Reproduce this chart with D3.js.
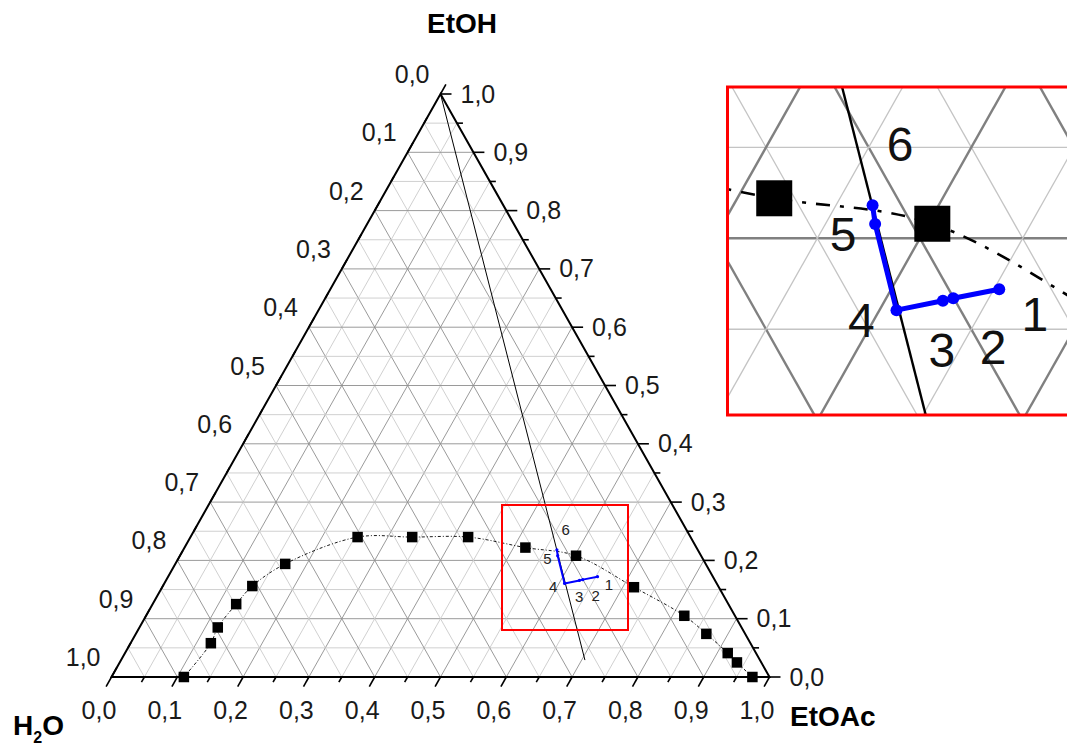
<!DOCTYPE html>
<html>
<head>
<meta charset="utf-8">
<script src="https://cdn.jsdelivr.net/npm/d3@7"></script>
<style>
    body { margin: 0; background: #fff; }
    svg { display: block; font-family: Arial, 'Liberation Sans', sans-serif; }
</style>
</head>
<body>
<svg id="chart" width="1067" height="747"></svg>
<script>
// binodal curve, mass fractions (H2O = 1 - EtOAc - EtOH)
const binodalEtOAc = [0.110, 0.122, 0.119, 0.127, 0.136, 0.167, 0.254, 0.337, 0.422, 0.518, 0.602, 0.717, 0.818, 0.867, 0.916, 0.938, 0.974]
const binodalEtOH = [0.000, 0.058, 0.085, 0.125, 0.156, 0.194, 0.240, 0.240, 0.240, 0.222, 0.208, 0.154, 0.105, 0.074, 0.041, 0.025, 0.000]

// straight line from the EtOH corner
const tieEtOAc = [0.000, 0.705]
const tieEtOH = [1.000, 0.029]

// blue path, stages 1..6
const stageNames = ['1', '2', '3', '4', '5', '6']
const stageEtOAc = [0.6526, 0.6327, 0.6283, 0.6083, 0.5742, 0.5678]
const stageEtOH = [0.1720, 0.1670, 0.1657, 0.1605, 0.2079, 0.2182]

const tickValues = d3.range(0, 1.0001, 0.05)
const axisTitles = ['EtOH', 'EtOAc', 'H2O']

const svg = d3.select('#chart')
const fmt = d3.formatLocale({ decimal: ',', thousands: '.', grouping: [3], currency: ['', ''] }).format('.1f')

// corners: H2O bottom-left, EtOAc bottom-right, EtOH top
const corner = { A: [111.5, 677], B: [769.5, 677], C: [440.5, 94] }

// cartesian u = EtOAc + EtOH / 2, v = EtOH
const xMain = d3.scaleLinear().domain([0, 1]).range([corner.A[0], corner.B[0]])
const yMain = d3.scaleLinear().domain([0, 1]).range([corner.A[1], corner.C[1]])

const zoomK = 3.12
const zoomCenter = { b: 0.6, c: 0.2, x: 920, y: 238.3 }
const cx0 = xMain(zoomCenter.b + zoomCenter.c / 2)
const cy0 = yMain(zoomCenter.c)
const xInset = d3.scaleLinear().domain([0, 1])
    .range(xMain.range().map(v => zoomCenter.x + (v - cx0) * zoomK))
const yInset = d3.scaleLinear().domain([0, 1])
    .range(yMain.range().map(v => zoomCenter.y + (v - cy0) * zoomK))

function makeProj (xs, ys) {
    return (b, c) => [xs(b + c / 2), ys(c)]
}

function drawContent (g, proj, st) {
    // grid
    const grid = g.append('g')
    tickValues.filter(v => v > 0.001 && v < 0.999).forEach(v => {
        const major = Math.abs(v * 10 - Math.round(v * 10)) < 1e-6
        const segs = [
            [proj(0, v), proj(1 - v, v)],
            [proj(v, 0), proj(v, 1 - v)],
            [proj(1 - v, 0), proj(0, 1 - v)]
        ]
        segs.forEach(s => {
            grid.append('line')
                .attr('x1', s[0][0]).attr('y1', s[0][1])
                .attr('x2', s[1][0]).attr('y2', s[1][1])
                .attr('stroke', major ? st.majorColor : st.minorColor)
                .attr('stroke-width', major ? st.majorWidth : st.minorWidth)
        })
    })

    // tie line
    g.append('path')
        .datum(d3.zip(tieEtOAc, tieEtOH))
        .attr('d', d3.line().x(d => proj(d[0], d[1])[0]).y(d => proj(d[0], d[1])[1]))
        .attr('fill', 'none')
        .attr('stroke', '#000')
        .attr('stroke-width', st.tieWidth)

    // binodal
    const pts = d3.zip(binodalEtOAc, binodalEtOH)
    g.append('path')
        .datum(pts)
        .attr('d', d3.line()
            .x(d => proj(d[0], d[1])[0])
            .y(d => proj(d[0], d[1])[1])
            .curve(d3.curveCatmullRom.alpha(0.5)))
        .attr('fill', 'none')
        .attr('stroke', '#000')
        .attr('stroke-width', st.curveWidth)
        .attr('stroke-dasharray', st.dash)

    g.append('g').selectAll('rect')
        .data(pts)
        .join('rect')
        .attr('x', d => proj(d[0], d[1])[0] - st.sq / 2)
        .attr('y', d => proj(d[0], d[1])[1] - st.sq / 2)
        .attr('width', st.sq)
        .attr('height', st.sq)
        .attr('fill', '#000')

    // stages
    const stages = d3.zip(stageEtOAc, stageEtOH, stageNames)
    g.append('path')
        .datum(stages)
        .attr('d', d3.line().x(d => proj(d[0], d[1])[0]).y(d => proj(d[0], d[1])[1]))
        .attr('fill', 'none')
        .attr('stroke', '#0000ff')
        .attr('stroke-width', st.blueWidth)
        .attr('stroke-linejoin', 'round')
    g.append('g').selectAll('circle')
        .data(stages)
        .join('circle')
        .attr('cx', d => proj(d[0], d[1])[0])
        .attr('cy', d => proj(d[0], d[1])[1])
        .attr('r', st.dot)
        .attr('fill', '#0000ff')

    // label offsets in main-chart pixels
    const off = { 1: [11.4, 7.8], 2: [12.8, 15.6], 3: [-0.3, 15.8], 4: [-11.3, 3.2], 5: [-10.3, 3], 6: [8.8, -19.8] }
    g.append('g').selectAll('text')
        .data(stages)
        .join('text')
        .attr('x', d => proj(d[0], d[1])[0] + off[d[2]][0] * st.scale)
        .attr('y', d => proj(d[0], d[1])[1] + off[d[2]][1] * st.scale)
        .attr('dy', '0.36em')
        .attr('text-anchor', 'middle')
        .attr('font-size', st.labelSize)
        .attr('fill', st.labelColor)
        .text(d => d[2])
}

const projMain = makeProj(xMain, yMain)
const main = svg.append('g')

drawContent(main, projMain, {
    majorColor: '#8e8e8e', minorColor: '#cbcbcb', majorWidth: 0.9, minorWidth: 0.9,
    tieWidth: 1, curveWidth: 0.9, dash: '3,2,1,2', sq: 10.5,
    blueWidth: 2, dot: 1.6, scale: 1, labelSize: 15, labelColor: '#222'
})

// triangle frame
main.append('path')
    .attr('d', d3.line()([projMain(0, 0), projMain(1, 0), projMain(0, 1)]) + 'Z')
    .attr('fill', 'none')
    .attr('stroke', '#000')
    .attr('stroke-width', 2)
    .attr('stroke-linejoin', 'miter')

// ticks and tick labels
const dirDown = [corner.A[0] - corner.C[0], corner.A[1] - corner.C[1]]
const len = Math.hypot(dirDown[0], dirDown[1])
const uDown = [dirDown[0] / len, dirDown[1] / len]
const uUp = [-uDown[0], -uDown[1]]
const axes = [
    { pos: v => projMain(v, 0), dir: uDown, anchor: 'middle', lx: -12.5, ly: 42 },
    { pos: v => projMain(1 - v, v), dir: [1, 0], anchor: 'start', lx: 20, ly: 8.5 },
    { pos: v => projMain(0, 1 - v), dir: uUp, anchor: 'end', lx: -11, ly: -11 }
]
const tickG = main.append('g')
axes.forEach(ax => {
    tickValues.forEach(v => {
        const major = Math.abs(v * 10 - Math.round(v * 10)) < 1e-6
        const p = ax.pos(v)
        const L = major ? 11 : 6
        tickG.append('line')
            .attr('x1', p[0]).attr('y1', p[1])
            .attr('x2', p[0] + ax.dir[0] * L).attr('y2', p[1] + ax.dir[1] * L)
            .attr('stroke', '#000')
            .attr('stroke-width', 1.6)
        if (major) {
            tickG.append('text')
                .attr('x', p[0] + ax.lx)
                .attr('y', p[1] + ax.ly)
                .attr('text-anchor', ax.anchor)
                .attr('font-size', 25)
                .attr('fill', '#1a1a1a')
                .text(fmt(v))
        }
    })
})

// axis titles
main.append('text')
    .attr('x', 462).attr('y', 32.5)
    .attr('text-anchor', 'middle')
    .attr('font-size', 28).attr('font-weight', 'bold')
    .text(axisTitles[0])
main.append('text')
    .attr('x', 790).attr('y', 726)
    .attr('font-size', 28).attr('font-weight', 'bold')
    .text(axisTitles[1])
const h2o = main.append('text')
    .attr('x', 13).attr('y', 735)
    .attr('font-size', 28).attr('font-weight', 'bold')
h2o.append('tspan').text(axisTitles[2][0])
h2o.append('tspan').attr('font-size', 16).attr('dy', 8).text(axisTitles[2][1])
h2o.append('tspan').attr('dy', -8).text(axisTitles[2][2])

// zoom box on the main chart
main.append('rect')
    .attr('x', 502).attr('y', 505)
    .attr('width', 126).attr('height', 125)
    .attr('fill', 'none')
    .attr('stroke', '#ff0000')
    .attr('stroke-width', 2)

// inset
const inset = { x: 727.5, y: 87, w: 360, h: 328 }
svg.append('clipPath').attr('id', 'inset-clip')
    .append('rect')
    .attr('x', inset.x).attr('y', inset.y)
    .attr('width', inset.w).attr('height', inset.h)
const insetG = svg.append('g')
insetG.append('rect')
    .attr('x', inset.x).attr('y', inset.y)
    .attr('width', inset.w).attr('height', inset.h)
    .attr('fill', '#fff')
const insetInner = insetG.append('g').attr('clip-path', 'url(#inset-clip)')
drawContent(insetInner, makeProj(xInset, yInset), {
    majorColor: '#808080', minorColor: '#c4c4c4', majorWidth: 2.4, minorWidth: 1.3,
    tieWidth: 2.4, curveWidth: 2.6, dash: '14,10,4,10', sq: 36,
    blueWidth: 5, dot: 6, scale: zoomK, labelSize: 48, labelColor: '#111'
})
insetG.append('rect')
    .attr('x', inset.x).attr('y', inset.y)
    .attr('width', inset.w).attr('height', inset.h)
    .attr('fill', 'none')
    .attr('stroke', '#ff0000')
    .attr('stroke-width', 3)
</script>
</body>
</html>
